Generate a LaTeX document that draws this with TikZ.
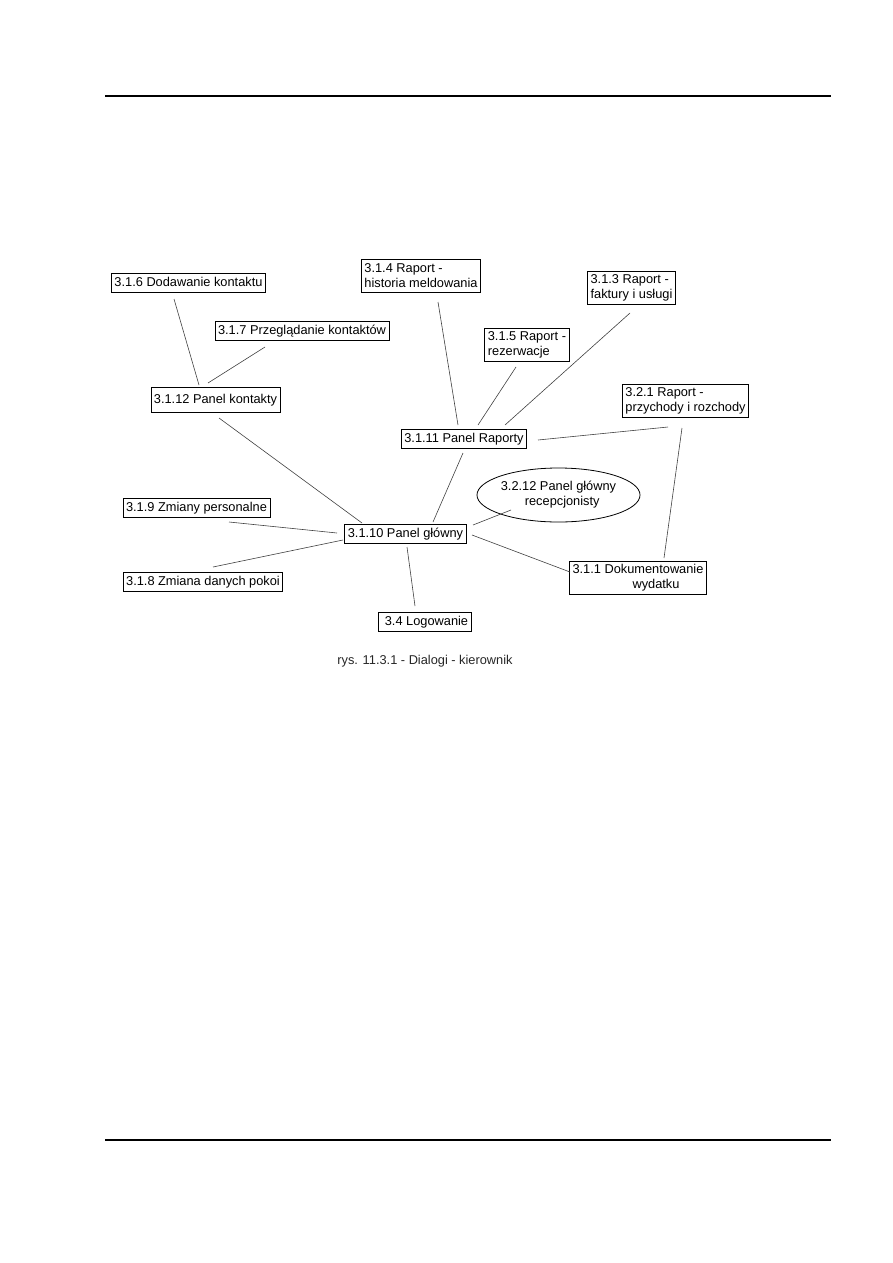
\documentclass[tikz,border=0pt]{standalone}
\usepackage{fontspec}
\setmainfont{Liberation Sans}
\usetikzlibrary{shapes.geometric,calc}

\begin{document}
\begin{tikzpicture}[x=1pt,y=-1pt,
  base/.style={draw,line width=0.8pt,inner xsep=3pt,align=left,
               font=\fontsize{12.8}{15}\selectfont},
  dialog/.style={base,inner ysep=3.5pt,text height=9.5pt,text depth=2.5pt},
  report/.style={base,inner ysep=2pt,minimum height=33pt},
  panel/.style={base,ellipse,inner sep=0pt,minimum width=147pt,minimum height=54pt},
  link/.style={draw=black!75,line width=0.6pt},
  rule/.style={line width=1.4pt}]

\useasboundingbox (0,0) rectangle (893,1263);

% page header and footer
\draw[rule] (105,96) -- (831,96);
\draw[rule] (105,1140) -- (831,1140);

% contacts
\node[dialog] (dod) at (188.5,283) {3.1.6 Dodawanie kontaktu};
\node[dialog] (prz) at (302,331)   {3.1.7 Przeglądanie kontaktów};
\node[dialog,minimum height=25pt] (kon) at (215.5,400) {3.1.12 Panel kontakty};

% reports
\node[report] (hist) at (421,275.5)  {3.1.4 Raport -\\historia meldowania};
\node[report] (fak)  at (631.5,288)  {3.1.3 Raport -\\faktury i usługi};
\node[report] (rez)  at (527,344.5)  {3.1.5 Raport -\\rezerwacje};
\node[report] (doch) at (685.5,400.5) {3.2.1 Raport -\\przychody i rozchody};
\node[dialog] (rap)  at (464,439)    {3.1.11 Panel Raporty};

% main panel
\node[dialog] (glowny) at (405.5,533.5) {3.1.10 Panel główny};
\node[dialog] (zmp) at (196.5,508) {3.1.9 Zmiany personalne};
\node[dialog] (zmd) at (203,582)   {3.1.8 Zmiana danych pokoi};
\node[dialog] (log) at (425,621.5) {\hspace*{3pt}3.4 Logowanie};
\node[panel]  (rec) at (558.5,495) {3.2.12 Panel główny\\\hspace*{24pt}recepcjonisty};
\node[report] (dok) at (638,577.5) {3.1.1 Dokumentowanie\\\hspace*{60pt}wydatku};

\node[font=\fontsize{12.8}{15}\selectfont,text=black!85] (cap) at (425,661)
  {rys. 11.3.1 - Dialogi - kierownik};

% connectors (offsets from node centres)
\foreach \a/\ax/\ay/\b/\bx/\by in {
    dod/-14.5/16/kon/-16.5/-15,
    prz/-37/16/kon/-7.5/-17,
    kon/3.5/18/glowny/-43.5/-10.5,
    rap/-1/14/glowny/27.5/-11.5,
    hist/17/26.5/rap/-6/-14,
    rez/-11/22.5/rap/14/-14,
    fak/-1.5/25/rap/41/-14,
    doch/-17.5/26.5/rap/74/1,
    doch/-3.5/27.5/dok/26/-19.5,
    glowny/67.5/-8.5/rec/-47.5/15,
    glowny/66.5/1.5/dok/-68/-5.5,
    zmp/32.5/14/glowny/-68.5/-0.5,
    zmd/10/-15/glowny/-62.5/6.5,
    log/-10/-15.5/glowny/1.5/13.5}
  \draw[link] ([shift={(\ax,\ay)}]\a.center) -- ([shift={(\bx,\by)}]\b.center);
\end{tikzpicture}
\end{document}
